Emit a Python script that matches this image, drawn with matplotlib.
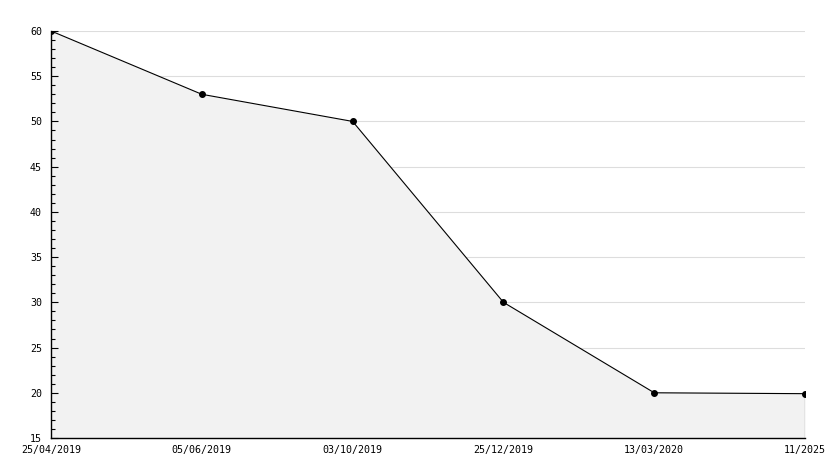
import matplotlib
matplotlib.use("Agg")
import matplotlib.pyplot as plt
from matplotlib.ticker import MultipleLocator

dates = ['25/04/2019', '05/06/2019', '03/10/2019', '25/12/2019', '13/03/2020', '11/2025']
values = [60, 53, 50, 30, 20, 19.9]

x = list(range(len(dates)))

plt.rcParams['font.family'] = 'DejaVu Sans Mono'

fig = plt.figure(figsize=(8.34, 4.68), dpi=100)
ax = fig.add_axes([0.0612, 0.0641, 0.9041, 0.8697])

ax.set_xlim(0, len(dates) - 1)
ax.set_ylim(15, 60)
ax.yaxis.set_major_locator(MultipleLocator(5))
ax.yaxis.set_minor_locator(MultipleLocator(1))

# grid drawn by hand so the fill covers it but not the ticks
for yv in ax.get_yticks():
    if 15 < yv <= 60:
        ax.axhline(yv, color='#dddddd', lw=0.8, zorder=0)

ax.fill_between(x, values, 15, color='#f2f2f2', lw=0, zorder=1)
ax.plot(x, values, color='black', lw=0.8, marker='o', ms=4, zorder=3)
ax.vlines(x[-1], 15, values[-1], color='black', lw=0.8, zorder=3)

ax.set_xticks(x)
ax.set_xticklabels(dates)

for s in ['top', 'right']:
    ax.spines[s].set_visible(False)
ax.spines['left'].set_linewidth(1)
ax.spines['bottom'].set_linewidth(1)

ax.tick_params(axis='y', which='major', direction='in', length=5, width=0.8, labelsize=7.2, pad=6.5)
ax.tick_params(axis='y', which='minor', direction='in', length=3, width=0.8)
ax.tick_params(axis='x', length=0, labelsize=7.2, pad=5)

fig.savefig('out.png', dpi=100)
